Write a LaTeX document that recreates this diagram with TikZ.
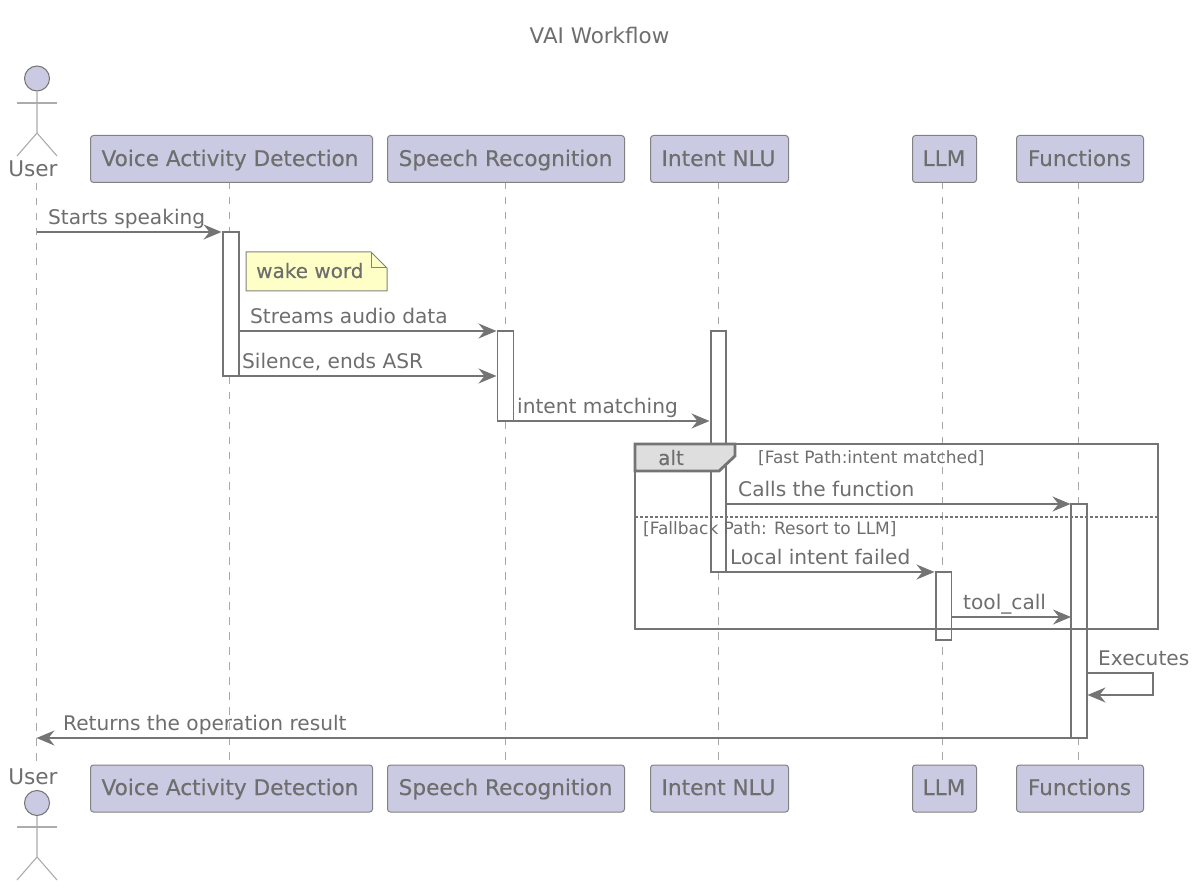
\documentclass[tikz,border=0pt]{standalone}
\usepackage{fontspec}
\setmainfont{DejaVu Sans}
\newfontfamily\hdfont[FakeBold=0.25]{DejaVu Sans}
\usetikzlibrary{arrows.meta}
\definecolor{ln}{HTML}{747474}
\definecolor{tx}{HTML}{6E6E6E}
\definecolor{box}{HTML}{CACAE2}
\definecolor{ll}{HTML}{A8A8A8}
\tikzset{
  part/.style={draw=ln!90,line width=1pt,fill=box,rounded corners=3pt,inner sep=0pt,minimum height=47pt,anchor=north west},
  parttext/.style={text=tx,font=\hdfont\fontsize{21.6}{25}\selectfont,inner sep=0pt,anchor=base},
  lifeline/.style={draw=ll,line width=1pt,dash pattern=on 7.5pt off 7.5pt},
  bar/.style={draw=ln,line width=1.6pt,fill=white},
  msg/.style={draw=ln,line width=1.5pt,-{Stealth[length=18pt,width=15pt,inset=6pt]}},
  lab/.style={text=tx,font=\fontsize{20.15}{24}\selectfont,anchor=base west,inner sep=0pt},
  guard/.style={text=tx,font=\fontsize{17}{20}\selectfont,anchor=base west,inner sep=0pt},
  actorbody/.style={draw=ln!60,line width=1.1pt},
  actorhead/.style={draw=ln,line width=1pt,fill=box,circle,minimum size=25pt,inner sep=0pt},
  usertext/.style={text=tx,font=\fontsize{21.6}{25}\selectfont,inner sep=0pt,anchor=base},
}
\begin{document}
\begin{tikzpicture}[x=1pt,y=-1pt]
\useasboundingbox (0,0) rectangle (1200,890);
\fill[white] (0,0) rectangle (1200,890);
\node[text=tx,font=\fontsize{21.45}{25}\selectfont] (title) at (599.5,35.5) {VAI Workflow};
% participants
\newcommand{\partbox}[7]{%
  \node[part,minimum width=#4pt] (#1) at (#2,#3) {};
  \node[parttext] (#1t) at (#5,#6) {#7};}
\coordinate (ut) at (36,183);
\coordinate (ub) at (36,764);
\coordinate (vtc) at (229,182);\coordinate (vbc) at (229,765);
\coordinate (stc) at (505,182);\coordinate (sbc) at (505,765);
\coordinate (ntc) at (718,182);\coordinate (nbc) at (718,765);
\coordinate (ltc) at (942,182);\coordinate (lbc) at (942,765);
\coordinate (ftc) at (1078,182);\coordinate (fbc) at (1078,765);
\draw[lifeline] (ut) -- (ub);
\draw[lifeline] (vtc) -- (vbc);
\draw[lifeline] (stc) -- (sbc);
\draw[lifeline] (ntc) -- (nbc);
\draw[lifeline] (ltc) -- (lbc);
\draw[lifeline] (ftc) -- (fbc);
\partbox{vt}{90}{135}{282}{230}{166}{Voice Activity Detection}
\partbox{st}{387}{135}{237}{505.5}{166}{Speech Recognition}
\partbox{nt}{650}{135}{138}{718.5}{166}{Intent NLU}
\partbox{lt}{912}{135}{64}{944}{166}{LLM}
\partbox{ft}{1016}{135}{127}{1079.5}{166}{Functions}
\partbox{vb}{90}{764.5}{282}{230}{795}{Voice Activity Detection}
\partbox{sb}{387}{764.5}{237}{505.5}{795}{Speech Recognition}
\partbox{nb}{650}{764.5}{138}{718.5}{795}{Intent NLU}
\partbox{lb}{912}{764.5}{64}{944}{795}{LLM}
\partbox{fb}{1016}{764.5}{127}{1079.5}{795}{Functions}
% actors
\node[actorhead] (headt) at (37,78.5) {};
\draw[actorbody] (headt.south) -- (37,133) -- (17,156);
\draw[actorbody] (37,133) -- (57,156);
\draw[actorbody] (17,103) -- (57,103);
\node[usertext] (usert) at (33,177) {User};
\node[actorhead] (headb) at (37,803) {};
\draw[actorbody] (headb.south) -- (37,857) -- (17,880);
\draw[actorbody] (37,857) -- (57,880);
\draw[actorbody] (17,827) -- (57,827);
\node[usertext] (userb) at (33,784) {User};
% activations
\draw[bar] (223,232) rectangle (239,376);
\draw[bar] (497.5,331) rectangle (513.5,421);
\draw[bar] (711,331) rectangle (726,572);
\draw[bar] (936,572) rectangle (951.5,640);
\draw[bar] (1071,504) rectangle (1087,738);
\coordinate (a1) at (37,232);\coordinate (a1e) at (221.5,232);
\coordinate (a2) at (239,331);\coordinate (a2e) at (496.5,331);
\coordinate (a3) at (239,376);\coordinate (a3e) at (496.5,376);
\coordinate (a4) at (513.5,421);\coordinate (a4e) at (709.5,421);
\coordinate (a5) at (726,504);\coordinate (a5e) at (1070.5,504);
\coordinate (a6) at (726,572);\coordinate (a6e) at (934.5,572);
\coordinate (a7) at (951.5,617);\coordinate (a7e) at (1071,617);
\coordinate (a8) at (1087,673);\coordinate (a8e) at (1087.5,695);
\coordinate (a9) at (1071,738);\coordinate (a9e) at (36.5,738);
% note
\draw[draw=ln!90,line width=1pt,fill={rgb,255:red,254;green,255;blue,198}] (246,252) -- (371,252) -- (387,268) -- (387,291) -- (246,291) -- cycle;
\draw[draw=ln!90,line width=1pt] (371,252) -- (371,268) -- (387,268);
\node[lab,font=\hdfont\fontsize{20}{24}\selectfont] (notetxt) at (256,278) {wake word};
% messages
\draw[msg] (a1) -- (a1e);
\node[lab] (l1) at (48,224.5) {Starts speaking};
\draw[msg] (a2) -- (a2e);
\node[lab] (l2) at (250,323.5) {Streams audio data};
\draw[msg] (a3) -- (a3e);
\node[lab] (l3) at (242,368.5) {Silence, ends ASR};
\draw[msg] (a4) -- (a4e);
\node[lab] (l4) at (517,413.5) {intent matching};
\draw[msg] (a5) -- (a5e);
\node[lab] (l5) at (738,496.5) {Calls the function};
\draw[msg] (a6) -- (a6e);
\node[lab] (l6) at (730,564.5) {Local intent failed};
\draw[msg] (a7) -- (a7e);
\node[lab] (l7) at (963,609.5) {tool\_call};
\draw[msg] (a8) -- (1153,673) -- (1153,695) -- (a8e);
\node[lab] (l8) at (1098,665.5) {Executes};
\draw[msg] (a9) -- (a9e);
\node[lab] (l9) at (63,730.5) {Returns the operation result};
% alt frame
\draw[draw=ln,line width=2.8pt] (635,444) rectangle (1158,629);
\draw[draw=ln,line width=2.8pt,fill=black!13] (635,444) -- (735,444) -- (735,456) -- (719,471) -- (635,471) -- cycle;
\node[lab,font=\hdfont\fontsize{20}{24}\selectfont] (alt) at (658,465) {alt};
\node[guard] (g1) at (758,464) {[Fast Path:intent matched]};
\draw[draw=ln,line width=1.4pt,dash pattern=on 2.5pt off 2.5pt] (635,517) -- (1158,517);
\node[guard] (g2) at (643,534.5) {[Fallback Path: Resort to LLM]};
\end{tikzpicture}
\end{document}
